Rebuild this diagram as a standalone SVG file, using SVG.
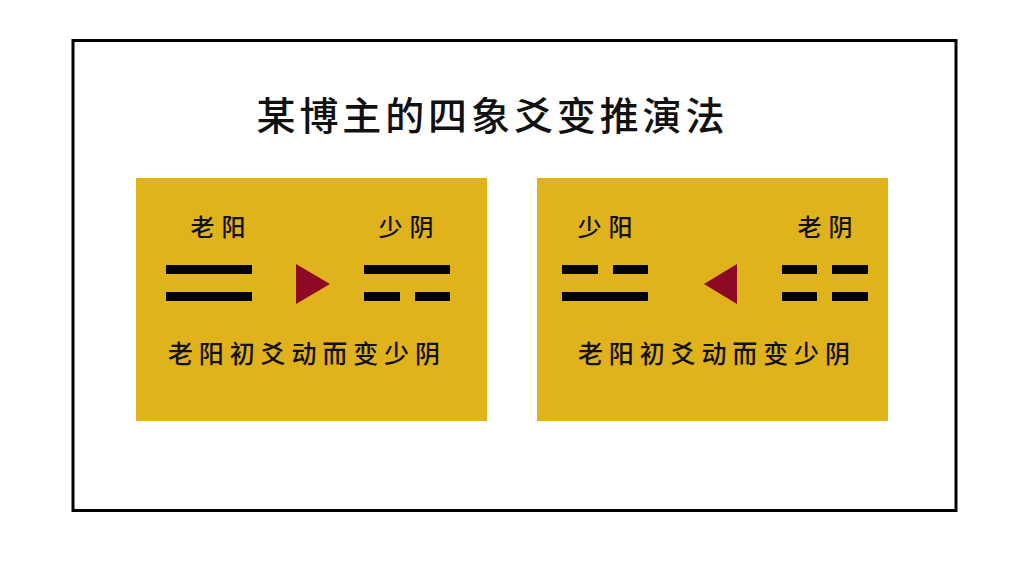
<svg xmlns="http://www.w3.org/2000/svg" width="1024" height="576" viewBox="0 0 1024 576">
<style>
.panel{fill:#E0B31C}
.bar{fill:#000}
.tri{fill:#8C0A24}
text{font-family:"Noto Sans CJK SC","Noto Sans",sans-serif;fill:#111;text-anchor:middle}
.title{font-size:39px;font-weight:500}
.lab{font-size:24px;font-weight:500}
.cap{font-size:25px;font-weight:500}
</style>
<rect x="0" y="0" width="1024" height="576" fill="#fff"/>
<rect id="frame" x="73" y="40.5" width="883" height="470" fill="none" stroke="#000" stroke-width="3"/>
<text id="title" class="title" x="490.5" y="130" textLength="468" lengthAdjust="spacing">某博主的四象爻变推演法</text>
<g id="panel-left">
<rect class="panel" x="136" y="178" width="351" height="243"/>
<text class="lab" x="218" y="236" textLength="55" lengthAdjust="spacing">老阳</text>
<text class="lab" x="406" y="236" textLength="55" lengthAdjust="spacing">少阴</text>
<rect class="bar" x="166" y="265" width="86" height="9"/>
<rect class="bar" x="166" y="292" width="86" height="9"/>
<polygon class="tri" points="296,264 330,284 296,304"/>
<rect class="bar" x="364" y="265" width="86" height="9"/>
<rect class="bar" x="364" y="292" width="36" height="9"/>
<rect class="bar" x="415" y="292" width="35" height="9"/>
<text class="cap" x="304" y="363" textLength="272" lengthAdjust="spacing">老阳初爻动而变少阴</text>
</g>
<g id="panel-right">
<rect class="panel" x="537" y="178" width="351" height="243"/>
<text class="lab" x="605" y="236" textLength="55" lengthAdjust="spacing">少阳</text>
<text class="lab" x="825" y="236" textLength="55" lengthAdjust="spacing">老阴</text>
<rect class="bar" x="562" y="265" width="36" height="9"/>
<rect class="bar" x="613" y="265" width="35" height="9"/>
<rect class="bar" x="562" y="292" width="86" height="9"/>
<polygon class="tri" points="737,264 704,284 737,304"/>
<rect class="bar" x="782" y="265" width="35" height="9"/>
<rect class="bar" x="832" y="265" width="36" height="9"/>
<rect class="bar" x="782" y="292" width="35" height="9"/>
<rect class="bar" x="832" y="292" width="36" height="9"/>
<text class="cap" x="714" y="363" textLength="272" lengthAdjust="spacing">老阳初爻动而变少阴</text>
</g>
<g id="connectors"></g>
</svg>
